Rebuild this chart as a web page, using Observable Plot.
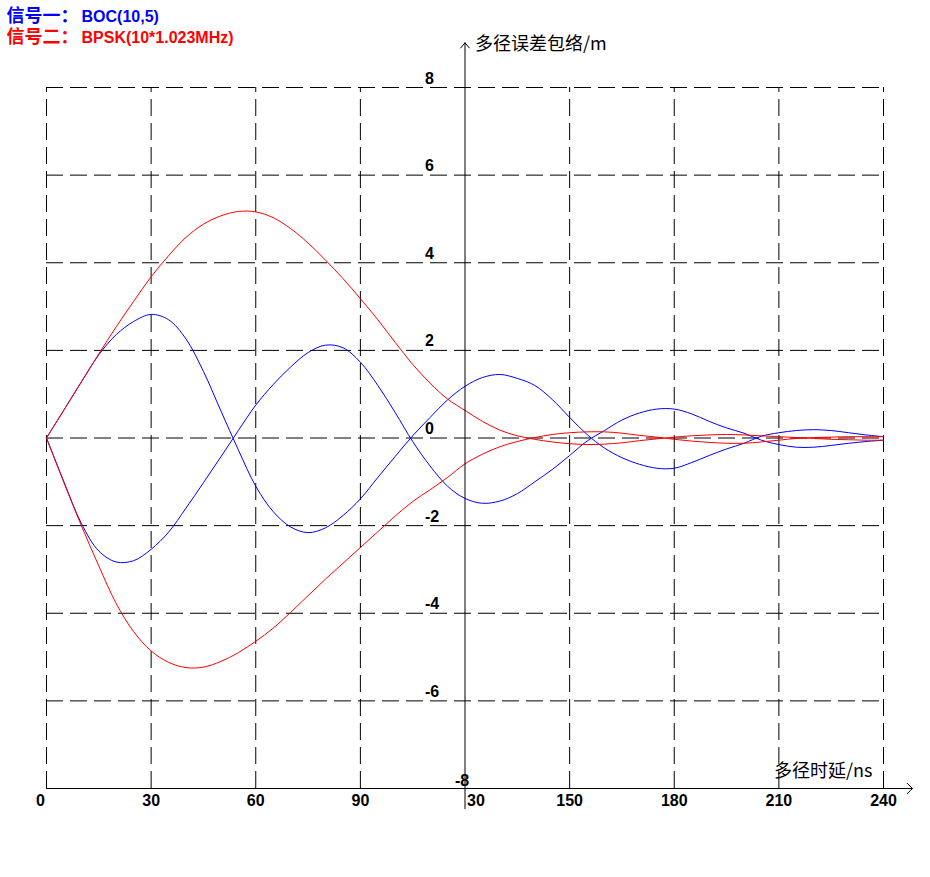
<!DOCTYPE html>
<html><head><meta charset="utf-8">
<script src="https://cdn.jsdelivr.net/npm/d3@7"></script>
<script src="https://cdn.jsdelivr.net/npm/@observablehq/plot@0.6"></script>
<style>body{margin:0;background:#fff}#chart{width:930px;height:877px}</style>
</head><body><div id="chart"></div>
<script>
// multipath delay (ns)
const delays = [0,5,10,15,20,25,30,35,40,45,50,55,60,65,70,75,80,85,90,95,100,105,110,115,120,125,130,135,140,145,150,155,160,165,170,175,180,185,190,195,200,205,210,215,220,225,230,235,240];
// 信号一 BOC(10,5) envelope (m)
const bocUpper = [0,0.64,1.28,1.9,2.36,2.66,2.82,2.70,2.26,1.52,0.62,-0.27,-1.1,-1.68,-2.03,-2.16,-2.05,-1.77,-1.39,-0.90,-0.42,0.05,0.47,0.87,1.18,1.38,1.45,1.36,1.2,0.88,0.47,0.08,-0.23,-0.45,-0.60,-0.69,-0.69,-0.56,-0.40,-0.25,-0.12,0.04,0.12,0.17,0.19,0.17,0.12,0.07,0.03];
const bocLower = [0,-1.0,-1.95,-2.58,-2.83,-2.8,-2.54,-2.15,-1.6,-1.02,-0.43,0.17,0.75,1.22,1.62,1.95,2.12,2.06,1.73,1.2,0.58,-0.08,-0.64,-1.1,-1.38,-1.49,-1.44,-1.27,-1.0,-0.72,-0.4,-0.07,0.17,0.41,0.57,0.66,0.66,0.55,0.38,0.23,0.11,-0.05,-0.15,-0.21,-0.21,-0.17,-0.12,-0.08,-0.05];
// 信号二 BPSK(10*1.023MHz) envelope (m)
const bpskUpper = [0,0.64,1.28,1.92,2.54,3.12,3.68,4.16,4.58,4.88,5.07,5.17,5.16,5.03,4.78,4.45,4.06,3.64,3.18,2.7,2.18,1.68,1.25,0.89,0.63,0.38,0.18,0.05,-0.03,-0.09,-0.13,-0.15,-0.14,-0.11,-0.06,-0.02,0.02,0.05,0.07,0.08,0.07,0.05,0.03,0.01,-0.01,-0.03,-0.04,-0.05,-0.05];
const bpskLower = [0,-1.02,-2.0,-2.92,-3.78,-4.42,-4.86,-5.12,-5.24,-5.23,-5.1,-4.9,-4.64,-4.34,-3.98,-3.6,-3.22,-2.86,-2.5,-2.14,-1.78,-1.45,-1.18,-0.9,-0.59,-0.37,-0.2,-0.08,0.01,0.08,0.12,0.14,0.14,0.11,0.06,0.02,-0.03,-0.07,-0.1,-0.12,-0.12,-0.09,-0.05,-0.01,0.01,0.02,0.03,0.03,0.03];

const xTicks = [0,30,60,90,120,150,180,210,240];
const xTickLabels = ["0","30","60","90","30","150","180","210","240"];
const yTicks = [8,6,4,2,0,-2,-4,-6,-8];
const yTickLabels = ["8","6","4","2","0","-2","-4","-6","-8"];
const legendNames = ["信号一：","信号二："];
const legendSignals = ["BOC(10,5)","BPSK(10*1.023MHz)"];
const legendColors = ["#0000ff","#ff0000"];
const xTitle = "多径时延/ns";
const yTitle = "多径误差包络/m";

const toRows = (vals) => delays.map((t, i) => ({t, v: vals[i]}));
const latin = "'Liberation Sans', Arial, sans-serif";
const cjk = "'Noto Sans CJK SC', 'Liberation Sans', sans-serif";
const dash = "17,7";
const yAxisX = 120;

const tickFont = {fontFamily: latin, fontSize: 16, fontWeight: "bold", fill: "#000", lineAnchor: "bottom"};
const xi = (v) => xTicks.indexOf(v);

const marks = [
  Plot.ruleY(yTicks.filter(d => d > -8), {y: d => d, x1: 0, x2: 240, stroke: "#000", strokeDasharray: dash}),
  Plot.ruleX(xTicks.filter(d => d !== yAxisX), {x: d => d, y1: -8, y2: 8, stroke: "#000", strokeDasharray: dash}),
  Plot.line(toRows(bocUpper), {x: "t", y: "v", stroke: "#0000ff", strokeWidth: 1, curve: "catmull-rom"}),
  Plot.line(toRows(bocLower), {x: "t", y: "v", stroke: "#0000ff", strokeWidth: 1, curve: "catmull-rom"}),
  Plot.line(toRows(bpskUpper), {x: "t", y: "v", stroke: "#ff0000", strokeWidth: 1, curve: "catmull-rom"}),
  Plot.line(toRows(bpskLower), {x: "t", y: "v", stroke: "#ff0000", strokeWidth: 1, curve: "catmull-rom"}),
  Plot.arrow([{x1: 0, y1: -8, x2: 248.3, y2: -8}], {x1: "x1", y1: "y1", x2: "x2", y2: "y2", stroke: "#000", strokeWidth: 1, headLength: 11, headAngle: 90}),
  Plot.arrow([{x1: yAxisX, y1: -8.46, x2: yAxisX, y2: 9.02}], {x1: "x1", y1: "y1", x2: "x2", y2: "y2", stroke: "#000", strokeWidth: 1, headLength: 10, headAngle: 80}),
  // x tick labels
  Plot.text(xTicks.filter(d => d !== 0 && d !== yAxisX), {x: d => d, y: -8, text: d => xTickLabels[xi(d)], dy: 17, ...tickFont}),
  Plot.text([0], {x: d => d, y: -8, text: d => xTickLabels[xi(d)], dy: 17, dx: -6, ...tickFont}),
  Plot.text([yAxisX], {x: d => d, y: -8, text: d => xTickLabels[xi(d)], dy: 17, dx: 2, textAnchor: "start", ...tickFont}),
  // y tick labels
  Plot.text(yTicks.filter(d => d > -8), {x: yAxisX, y: d => d, text: d => yTickLabels[yTicks.indexOf(d)], dx: -40, dy: -4, textAnchor: "start", ...tickFont}),
  Plot.text([-8], {x: yAxisX, y: d => d, text: d => yTickLabels[yTicks.indexOf(d)], dx: -10, dy: -3, textAnchor: "start", ...tickFont}),
  // axis titles
  Plot.text([yTitle], {x: yAxisX, y: 8, text: d => d, dx: 10, dy: -38, textAnchor: "start", lineAnchor: "bottom", fontFamily: cjk, fontSize: 18, fill: "#000"}),
  Plot.text([xTitle], {x: 240, y: -8, text: d => d, dx: -11, dy: -12, textAnchor: "end", lineAnchor: "bottom", fontFamily: cjk, fontSize: 18, fill: "#000"})
];
// legend
legendNames.forEach((name, i) => {
  marks.push(Plot.text([name], {frameAnchor: "top-left", text: d => d, dx: 6, dy: 21 + 21 * i, textAnchor: "start", lineAnchor: "bottom", fontFamily: cjk, fontSize: 18, fontWeight: "bold", fill: legendColors[i]}));
  marks.push(Plot.text([legendSignals[i]], {frameAnchor: "top-left", text: d => d, dx: 81, dy: 21 + 21 * i, textAnchor: "start", lineAnchor: "bottom", fontFamily: latin, fontSize: 16, fontWeight: "bold", fill: legendColors[i]}));
});

const chart = Plot.plot({
  width: 930,
  height: 877,
  margin: 0,
  style: {background: "#fff", overflow: "visible"},
  x: {domain: [0, 240], range: [46, 883]},
  y: {domain: [-8, 8], range: [788, 87]},
  marks
});
document.getElementById("chart").appendChild(chart);
</script>
</body></html>
